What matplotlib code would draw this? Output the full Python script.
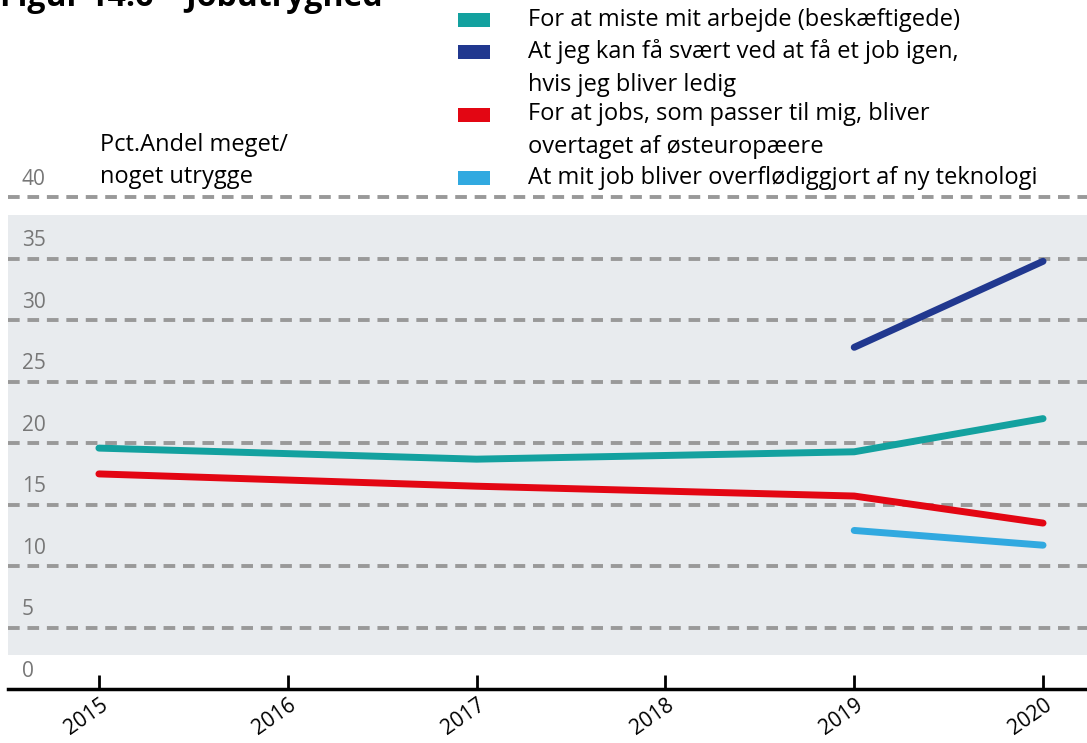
import matplotlib.pyplot as plt
import matplotlib.transforms as mtransforms
from matplotlib.patches import Rectangle

plt.rcParams['font.family'] = ['Open Sans', 'DejaVu Sans']

years = [2015, 2016, 2017, 2018, 2019, 2020]
yticks = [0, 5, 10, 15, 20, 25, 30, 35, 40]

miste_x = [2015, 2017, 2019, 2020]
miste_y = [19.6, 18.7, 19.3, 22.0]
svaert_x = [2019, 2020]
svaert_y = [27.8, 34.8]
oest_x = [2015, 2017, 2019, 2020]
oest_y = [17.5, 16.5, 15.7, 13.5]
tek_x = [2019, 2020]
tek_y = [12.9, 11.7]

labels = [
    "For at miste mit arbejde (beskæftigede)",
    "At jeg kan få svært ved at få et job igen,\nhvis jeg bliver ledig",
    "For at jobs, som passer til mig, bliver\novertaget af østeuropæere",
    "At mit job bliver overflødiggjort af ny teknologi",
]
colors = ["#13a19f", "#21388f", "#e30613", "#31a9e0"]

W, H = 1087, 743
fig = plt.figure(figsize=(W / 100, H / 100), dpi=100)
# axes placed in pixel terms: left 8, right 1087, bottom line at y=689, top ~190
ax = fig.add_axes([8 / W, (H - 689) / H, (W - 8) / W, (689 - 190) / H])
ax.set_xlim(2015 - 91 / 189, 2020 + 44 / 189)
ax.set_ylim(0, 40.6)

ax.axhspan(2.8, 38.6, color="#e8ebee", zorder=0, lw=0)
for v in yticks[1:]:
    ax.axhline(v, color="#999999", lw=2.8, ls=(0, (3, 2)), zorder=1)
    ax.text(2015 - 77 / 189, v + 0.6, str(v), color="#777777", fontsize=15,
            ha="left", va="bottom")
ax.text(2015 - 77 / 189, 0.6, "0", color="#777777", fontsize=15,
        ha="left", va="bottom")

for xs, ys, c in [(miste_x, miste_y, colors[0]), (svaert_x, svaert_y, colors[1]),
                  (oest_x, oest_y, colors[2]), (tek_x, tek_y, colors[3])]:
    ax.plot(xs, ys, color=c, lw=5, solid_capstyle="round", zorder=3)

for s in ["top", "right", "left"]:
    ax.spines[s].set_visible(False)
ax.spines["bottom"].set_linewidth(2.5)
ax.set_yticks([])
ax.set_xticks(years)
ax.set_xticklabels([str(y) for y in years], rotation=35, fontsize=15,
                   ha="center")
ax.tick_params(axis="x", direction="in", length=10, width=2, pad=4)
shift = mtransforms.ScaledTranslation(-13 / 100, 0, fig.dpi_scale_trans)
for lab in ax.get_xticklabels():
    lab.set_transform(lab.get_transform() + shift)

fig.text(100 / W, 1 - 161 / H, "Pct.Andel meget/\nnoget utrygge", fontsize=17,
         va="center", ha="left", linespacing=1.45)

# legend drawn by hand so the colour box sits on the first line of each label
pitch = 31.5
top = 8
for lab, c in zip(labels, colors):
    fig.text(528 / W, 1 - top / H, lab, fontsize=17, va="top", ha="left",
             linespacing=1.45)
    fig.patches.append(Rectangle((458 / W, 1 - (top + 19) / H), 32 / W, 14 / H,
                                 transform=fig.transFigure, facecolor=c,
                                 edgecolor="none"))
    top += pitch * (lab.count("\n") + 1)

fig.text(0, 1 - 6 / H, "Figur 14.6 – Jobutryghed", fontsize=23,
         fontweight="bold", va="baseline", ha="left")

fig.savefig("out.png", dpi=100)
